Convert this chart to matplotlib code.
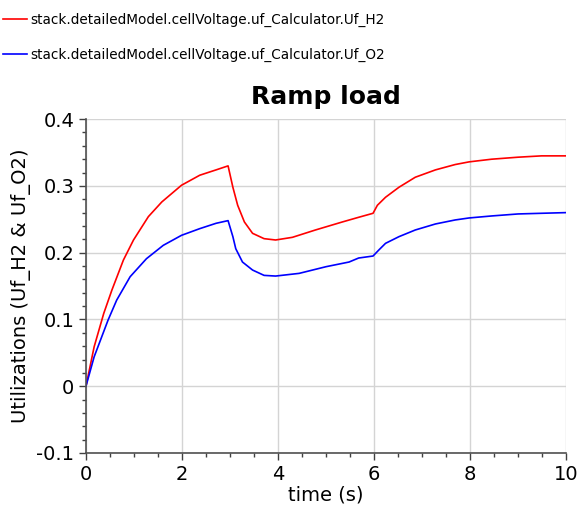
import numpy as np
import matplotlib
matplotlib.use("Agg")
import matplotlib.pyplot as plt
from matplotlib.ticker import MultipleLocator, FuncFormatter

# Uf_H2 (red)
t_h2 = [0, 0.17, 0.37, 0.54, 0.78, 0.99, 1.30, 1.58, 1.99, 2.37, 2.71, 2.96,
        3.06, 3.16, 3.30, 3.47, 3.71, 3.95, 4.30, 4.78, 5.34, 5.68, 5.98,
        6.07, 6.24, 6.52, 6.86, 7.28, 7.69, 7.98, 8.45, 9.0, 9.49, 10.0]
uf_h2 = [0, 0.059, 0.109, 0.144, 0.189, 0.219, 0.254, 0.276, 0.301, 0.316, 0.324, 0.330,
         0.298, 0.271, 0.246, 0.229, 0.221, 0.219, 0.223, 0.234, 0.246, 0.253, 0.259,
         0.271, 0.283, 0.298, 0.313, 0.324, 0.332, 0.336, 0.340, 0.343, 0.345, 0.345]

# Uf_O2 (blue)
t_o2 = [0, 0.17, 0.46, 0.64, 0.92, 1.26, 1.61, 1.99, 2.37, 2.71, 2.96,
        3.06, 3.12, 3.26, 3.47, 3.71, 3.95, 4.44, 5.0, 5.48, 5.68, 5.98,
        6.1, 6.24, 6.52, 6.86, 7.28, 7.69, 7.98, 8.45, 9.0, 9.49, 10.0]
uf_o2 = [0, 0.044, 0.099, 0.129, 0.164, 0.191, 0.211, 0.226, 0.236, 0.244, 0.248,
         0.224, 0.206, 0.186, 0.174, 0.166, 0.165, 0.169, 0.179, 0.186, 0.192, 0.195,
         0.204, 0.214, 0.224, 0.234, 0.243, 0.249, 0.252, 0.255, 0.258, 0.259, 0.260]

labels = ["stack.detailedModel.cellVoltage.uf_Calculator.Uf_H2",
          "stack.detailedModel.cellVoltage.uf_Calculator.Uf_O2"]

fig = plt.figure(figsize=(5.77, 5.18), dpi=100)
ax = fig.add_axes([0.149, 0.1255, 0.832, 0.6445])

l1, = ax.plot(t_h2, uf_h2, color="#ff0000", linewidth=1.2)
l2, = ax.plot(t_o2, uf_o2, color="#0000ff", linewidth=1.2)

ax.set_xlim(0, 10)
ax.set_ylim(-0.1, 0.4)
ax.xaxis.set_major_locator(MultipleLocator(2))
ax.xaxis.set_minor_locator(MultipleLocator(0.5))
ax.yaxis.set_major_locator(MultipleLocator(0.1))
ax.yaxis.set_minor_locator(MultipleLocator(0.02))
ax.yaxis.set_major_formatter(FuncFormatter(lambda v, p: "0" if abs(v) < 1e-9 else f"{v:.1f}"))
ax.tick_params(labelsize=14, colors="#404040", labelcolor="black", length=5, width=1)
ax.tick_params(which="minor", colors="#404040", length=3, width=1)
ax.grid(True, color="#d4d4d4", linewidth=1)
ax.set_axisbelow(True)
for s in ["top", "right"]:
    ax.spines[s].set_visible(False)
for s in ["left", "bottom"]:
    ax.spines[s].set_color("#505050")
    ax.spines[s].set_linewidth(1.2)

ax.set_xlabel("time (s)", fontsize=14, labelpad=1)
ax.set_ylabel("Utilizations (Uf_H2 & Uf_O2)", fontsize=14, labelpad=4)
ax.set_title("Ramp load", fontsize=18, fontweight="bold", pad=11)

fig.legend([l1, l2], labels, loc="upper left", bbox_to_anchor=(-0.0155, 0.999),
           frameon=False, fontsize=9.85, handlelength=1.7, handletextpad=0.28,
           labelspacing=1.5)

fig.savefig("out.png", dpi=100)
